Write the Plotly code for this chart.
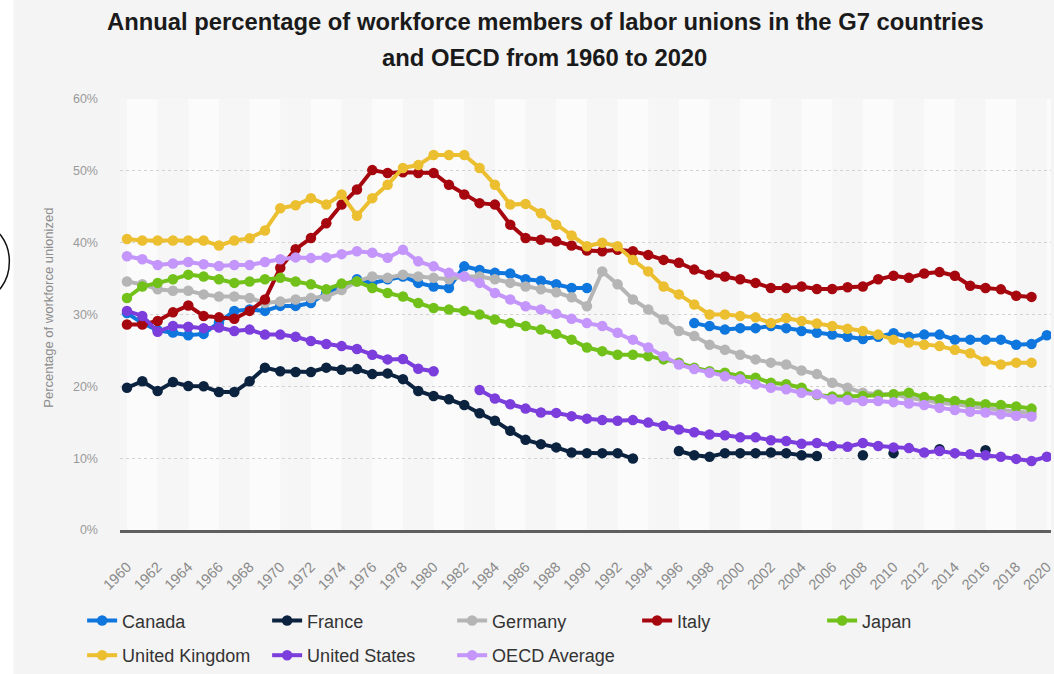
import plotly.graph_objects as go

# Union density (% of workforce unionized), one value per year 1960-2020; None = no data
years = list(range(1960, 2021))

canada = [30.2, 28.8, 27.8, 27.5, 27.1, 27.3, 28.9, 30.5, 30.7, 30.5,
          31.2, 31.2, 31.6, 33.0, 33.9, 34.9, 34.4, 34.9, 35.3, 34.4,
          33.9, 33.7, 36.7, 36.2, 35.8, 35.7, 34.9, 34.7, 34.2, 33.7,
          33.7, None, None, None, None, None, None, 28.8, 28.4, 27.9,
          28.1, 28.1, 28.4, 28.1, 27.7, 27.45, 27.2, 26.9, 26.6, 26.9,
          27.4, 26.9, 27.2, 27.2, 26.5, 26.5, 26.5, 26.5, 25.8, 25.9,
          27.1]

france = [19.8, 20.7, 19.35, 20.6, 20.05, 20.0, 19.2, 19.2, 20.7, 22.6,
          22.1, 22.0, 22.0, 22.6, 22.3, 22.4, 21.7, 21.8, 21.0, 19.35,
          18.65, 18.2, 17.4, 16.25, 15.2, 13.8, 12.55, 11.95, 11.5, 10.8,
          10.7, 10.7, 10.7, 9.95, None, None, 11.0, 10.4, 10.2, 10.7,
          10.7, 10.7, 10.8, 10.7, 10.4, 10.3, None, None, 10.4, None,
          10.7, None, None, 11.25, None, None, 11.1, None, None, None,
          None]

germany = [34.6, 34.2, 33.5, 33.3, 33.3, 32.8, 32.5, 32.5, 32.3, 31.6,
           31.8, 32.1, 32.3, 32.5, 33.4, 34.6, 35.3, 35.1, 35.55, 35.3,
           35.1, 34.9, 35.3, 35.3, 34.9, 34.4, 33.9, 33.5, 33.1, 32.4,
           31.15, 36.0, 34.2, 32.1, 30.7, 29.3, 27.7, 27.0, 25.8, 25.1,
           24.4, 23.75, 23.3, 23.05, 22.2, 21.7, 20.5, 19.8, 19.1, 18.9,
           18.9, 18.4, 18.0, 17.7, 17.5, 17.2, 17.0, 16.7, 16.5, 16.3,
           None]

italy = [28.6, 28.6, 29.1, 30.3, 31.25, 29.8, 29.6, 29.4, 30.5, 32.1,
         36.5, 39.1, 40.65, 42.7, 45.3, 47.4, 50.1, 49.7, 49.8, 49.7,
         49.7, 48.05, 46.7, 45.5, 45.3, 42.5, 40.65, 40.4, 40.2, 39.6,
         38.9, 38.8, 39.0, 38.8, 38.3, 37.6, 37.2, 36.25, 35.55, 35.3,
         34.9, 34.4, 33.7, 33.7, 33.9, 33.55, 33.55, 33.8, 33.9, 34.9,
         35.4, 35.1, 35.7, 35.9, 35.4, 34.0, 33.7, 33.5, 32.6, 32.45,
         None]

japan = [32.3, 33.9, 34.4, 34.9, 35.55, 35.3, 34.9, 34.4, 34.6, 34.9,
         35.1, 34.6, 34.2, 33.5, 34.3, 34.6, 33.7, 33.0, 32.5, 31.6,
         30.9, 30.7, 30.5, 30.0, 29.3, 28.8, 28.4, 27.9, 27.3, 26.5,
         25.4, 24.9, 24.4, 24.4, 24.2, 23.75, 23.3, 22.6, 22.1, 21.9,
         21.4, 21.2, 20.5, 20.3, 19.8, 18.8, 18.6, 18.6, 18.65, 18.75,
         18.9, 19.1, 18.5, 18.2, 17.95, 17.7, 17.5, 17.4, 17.2, 16.9,
         None]

united_kingdom = [40.5, 40.3, 40.3, 40.3, 40.3, 40.3, 39.6, 40.3, 40.6, 41.7,
                  44.8, 45.2, 46.2, 45.3, 46.7, 43.75, 46.2, 48.05, 50.4, 50.8,
                  52.2, 52.2, 52.2, 50.4, 48.05, 45.3, 45.4, 44.1, 42.5, 41.0,
                  39.5, 40.0, 39.5, 37.6, 36.0, 33.9, 32.8, 31.4, 30.0, 30.0,
                  29.8, 29.6, 28.8, 29.5, 29.1, 28.75, 28.4, 28.0, 27.7, 27.2,
                  26.5, 26.1, 25.8, 25.6, 25.1, 24.6, 23.5, 23.05, 23.3, 23.3,
                  None]

united_states = [30.5, 29.8, 27.6, 28.4, 28.3, 28.1, 28.2, 27.7, 27.9, 27.2,
                 27.2, 26.9, 26.3, 25.9, 25.6, 25.2, 24.4, 23.75, 23.8, 22.45,
                 22.1, None, None, 19.5, 18.3, 17.5, 16.9, 16.35, 16.3, 15.85,
                 15.5, 15.3, 15.2, 15.3, 14.95, 14.5, 14.0, 13.6, 13.3, 13.2,
                 12.9, 12.9, 12.5, 12.4, 12.0, 12.1, 11.7, 11.6, 12.1, 11.7,
                 11.5, 11.4, 10.8, 11.0, 10.7, 10.55, 10.4, 10.2, 9.9, 9.6,
                 10.2]

oecd_average = [38.1, 37.7, 36.9, 37.1, 37.3, 37.0, 36.75, 36.9, 36.9, 37.3,
                37.7, 37.95, 37.85, 37.95, 38.4, 38.8, 38.6, 37.9, 39.0, 37.4,
                36.7, 35.8, 35.3, 34.4, 33.0, 32.1, 31.15, 30.7, 30.1, 29.4,
                28.8, 28.4, 27.45, 26.5, 25.4, 24.2, 23.05, 22.4, 21.9, 21.4,
                21.0, 20.3, 19.8, 19.6, 19.1, 18.9, 18.2, 18.1, 17.95, 17.95,
                17.8, 17.6, 17.4, 17.0, 16.7, 16.45, 16.35, 16.1, 15.9, 15.8,
                None]

# (name, values, colour, legend row)
series = [
    ("Canada", canada, "#0f76de", "legend"),
    ("France", france, "#0c2340", "legend"),
    ("Germany", germany, "#b5b5b5", "legend"),
    ("Italy", italy, "#a6070f", "legend"),
    ("Japan", japan, "#72c11a", "legend"),
    ("United Kingdom", united_kingdom, "#ecbf30", "legend2"),
    ("United States", united_states, "#7b3ddc", "legend2"),
    ("OECD Average", oecd_average, "#c495fa", "legend2"),
]

y_ticks = [0, 10, 20, 30, 40, 50, 60]
x_ticks = list(range(1960, 2021, 2))

FONT = "Liberation Sans, Arial, Helvetica, sans-serif"

fig = go.Figure()
for name, vals, color, leg in series:
    fig.add_trace(go.Scatter(
        x=years, y=vals, name=name, mode="lines+markers",
        line=dict(color=color, width=4),
        marker=dict(color=color, size=10.5),
        connectgaps=False, legend=leg,
        hovertemplate="%{x}: %{y}%<extra>" + name + "</extra>",
    ))

# alternating two-year background bands
shapes = []
for start in range(1960, 2021, 4):
    shapes.append(dict(type="rect", xref="x", yref="paper", x0=start, x1=start + 2,
                       y0=0, y1=1, fillcolor="#fbfbfb", line=dict(width=0), layer="below"))

# white margin strip on the far left and the outlined circle beside it
L, PW, PH, BOT = 120, 934, 432, 531
px = lambda v: (v - L) / PW
py = lambda v: (BOT - v) / PH
shapes.append(dict(type="rect", xref="paper", yref="paper", x0=px(-2), x1=px(13),
                   y0=py(680), y1=py(-5), fillcolor="#ffffff", line=dict(width=0), layer="below"))
shapes.append(dict(type="circle", xref="paper", yref="paper", x0=px(-45), x1=px(9),
                   y0=py(298), y1=py(226), line=dict(color="#111111", width=1.5)))

TITLE_SIZE = 23.8
annotations = [
    dict(text="<b>Annual percentage of workforce members of labor unions in the G7 countries</b>",
         xref="paper", yref="paper", x=px(547), y=py(21), xanchor="center", yanchor="middle",
         showarrow=False, font=dict(family=FONT, size=TITLE_SIZE, color="#1a1a1a")),
    dict(text="<b>and OECD from 1960 to 2020</b>",
         xref="paper", yref="paper", x=px(546), y=py(57), xanchor="center", yanchor="middle",
         showarrow=False, font=dict(family=FONT, size=TITLE_SIZE, color="#1a1a1a")),
    dict(text="Percentage of workforce unionized", textangle=-90,
         xref="paper", yref="paper", x=px(48), y=py(308), xanchor="center", yanchor="middle",
         showarrow=False, font=dict(family=FONT, size=13, color="#8c8c8c")),
]

legend_style = dict(
    orientation="h", xanchor="left", yanchor="middle",
    entrywidth=140, entrywidthmode="pixels",
    font=dict(family=FONT, size=18, color="#333333"),
    bgcolor="rgba(0,0,0,0)", itemwidth=30,
)

fig.update_layout(
    width=1054, height=674,
    margin=dict(l=L, r=0, t=99, b=674 - BOT, pad=0),
    paper_bgcolor="#f4f4f4",
    plot_bgcolor="#f6f6f6",
    font=dict(family=FONT, color="#333333"),
    shapes=shapes,
    annotations=annotations,
    showlegend=True,
    legend=dict(x=px(82), y=py(622), **legend_style),
    legend2=dict(x=px(82), y=py(657), **legend_style),
    hovermode="closest",
)

fig.update_xaxes(
    range=[1959.545, 2020.27], tickmode="array", tickvals=x_ticks,
    ticktext=[str(t) for t in x_ticks], tickangle=-45,
    tickfont=dict(family=FONT, size=14.5, color="#8a8a8a"),
    showgrid=False, zeroline=False, showline=True, linecolor="#5f5f5f", linewidth=2.5,
    ticks="", ticklabelstandoff=20, ticklabeloverflow="allow",
)
fig.update_yaxes(
    range=[0, 60], tickmode="array", tickvals=y_ticks,
    ticktext=[f"{t}%" for t in y_ticks],
    tickfont=dict(family=FONT, size=12.5, color="#9a9a9a"),
    showgrid=True, gridcolor="#d2d2d2", griddash="dot", gridwidth=1,
    zeroline=False, showline=False, ticks="", ticklabelstandoff=21,
)

fig.write_html("out.html")
